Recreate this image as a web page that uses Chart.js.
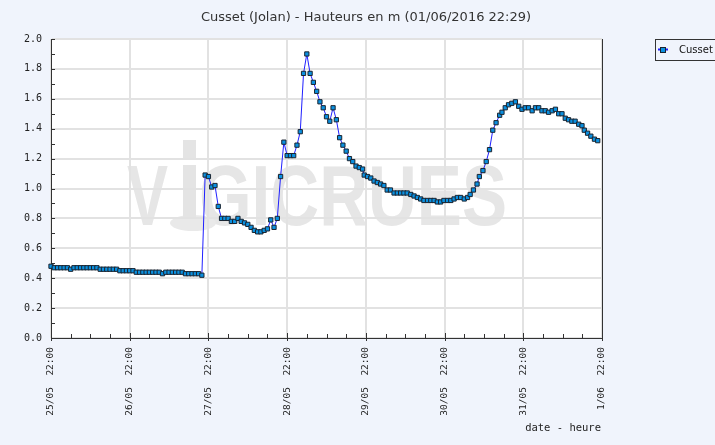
<!DOCTYPE html>
<html>
<head>
<meta charset="utf-8">
<script src="https://cdn.jsdelivr.net/npm/chart.js@4.4.1/dist/chart.umd.min.js"></script>
<style>
  html, body { margin: 0; padding: 0; background: #f0f4fc; }
  #wrap { width: 715px; height: 445px; }
</style>
</head>
<body>
<div id="wrap"><canvas id="hydroChart" width="715" height="445"></canvas></div>
<script>
const chartTitle = "Cusset (Jolan) - Hauteurs en m (01/06/2016 22:29)";
const seriesName = "Cusset";
const axisTitle = "date - heure";

// one label per day, tick every 24 h starting 25/05 22:00
const dayLabels = ["25/05  22:00", "26/05  22:00", "27/05  22:00", "28/05  22:00",
                   "29/05  22:00", "30/05  22:00", "31/05  22:00", "1/06  22:00"];

// hours since 25/05 22:00
const hours = [
  0, 1, 2, 3, 4, 5, 6, 7, 8, 9, 10, 11, 12, 13, 14, 15, 16, 17, 18, 19, 20,
  21, 22, 23, 24, 25, 26, 27, 28, 29, 30, 31, 32, 33, 34, 35, 36, 37, 38, 39, 40,
  41, 42, 43, 44, 45, 46, 47, 48, 49, 50, 51, 52, 53, 54, 55, 56, 57, 58, 59, 60,
  61, 62, 63, 64, 65, 66, 67, 68, 69, 70, 71, 72, 73, 74, 75, 76, 77, 78, 79, 80,
  81, 82, 83, 84, 85, 86, 87, 88, 89, 90, 91, 92, 93, 94, 95,
  95.5, 96.5, 97.5, 98.5, 99.5, 100.5, 101.5, 102.5, 103.5, 104.6, 105.6, 106.6, 107.6, 108.6,
  109.7, 110.7, 111.7, 112.7, 113.7, 114.8, 115.8, 116.8, 117.8, 118.8, 119.8, 120.9, 121.9,
  122.9, 123.9, 124.9, 126, 127, 127.8, 128.8, 129.9, 130.6, 131.7, 132.7, 133.7, 134.7,
  135.7, 136.8, 137.5, 138.5, 139.5, 140.5, 141.6, 142.6, 143.6, 144.6, 145.6, 146.7, 147.7,
  148.7, 149.7, 150.7, 151.7, 152.8, 153.8, 154.8, 155.8, 156.8, 157.8, 158.8, 159.8, 160.9,
  161.9, 162.6, 163.6, 164.6, 165.7, 166.7
];

// water height (m)
const heights = [
  0.48, 0.47, 0.47, 0.47, 0.47, 0.47, 0.46, 0.47, 0.47, 0.47, 0.47, 0.47, 0.47, 0.47, 0.47,
  0.46, 0.46, 0.46, 0.46, 0.46, 0.46, 0.45, 0.45, 0.45, 0.45, 0.45,
  0.44, 0.44, 0.44, 0.44, 0.44, 0.44, 0.44, 0.44, 0.43, 0.44, 0.44, 0.44, 0.44, 0.44, 0.44,
  0.43, 0.43, 0.43, 0.43, 0.43, 0.42,
  1.09, 1.08, 1.01, 1.02, 0.88, 0.80, 0.80, 0.80, 0.78, 0.78, 0.80, 0.78, 0.77, 0.76,
  0.74, 0.72, 0.71, 0.71, 0.72, 0.73, 0.79, 0.74, 0.80, 1.08, 1.31, 1.22, 1.22, 1.22, 1.29,
  1.38, 1.77, 1.90, 1.77, 1.71, 1.65, 1.58, 1.54, 1.48, 1.45, 1.54, 1.46, 1.34, 1.29, 1.25,
  1.20, 1.18, 1.15, 1.14, 1.13,
  1.09, 1.08, 1.07, 1.05, 1.04, 1.03, 1.02, 0.99, 0.99, 0.97, 0.97, 0.97, 0.97, 0.97,
  0.96, 0.95, 0.94, 0.93, 0.92, 0.92, 0.92, 0.92, 0.91, 0.91, 0.92, 0.92, 0.92,
  0.93, 0.94, 0.94, 0.93, 0.94, 0.96, 0.99, 1.03, 1.08, 1.12, 1.18, 1.26, 1.39,
  1.44, 1.49, 1.51, 1.54, 1.56, 1.57, 1.58, 1.55, 1.53, 1.54, 1.54, 1.52, 1.54,
  1.54, 1.52, 1.52, 1.51, 1.52, 1.53, 1.50, 1.50, 1.47, 1.46, 1.45, 1.45, 1.43,
  1.42, 1.39, 1.37, 1.35, 1.33, 1.32
];

const bg = '#f0f4fc';
const lineBlue = '#2020ff';
const markFill = '#0a90e0';
const markEdge = '#1a2430';

// draws a word squeezed to a given width, baseline at y
function squeezeText(ctx, txt, x, y, width) {
  const w = ctx.measureText(txt).width;
  ctx.save();
  ctx.translate(x, y);
  ctx.scale(width / w, 1);
  ctx.fillText(txt, 0, 0);
  ctx.restore();
}

const decor = {
  id: 'decor',
  beforeDraw(chart) {
    const { ctx, chartArea: a } = chart;
    ctx.save();
    ctx.fillStyle = '#ffffff';
    ctx.fillRect(a.left, a.top, a.right - a.left, a.bottom - a.top);
    // VIGICRUES watermark
    ctx.beginPath();
    ctx.rect(a.left, a.top, a.right - a.left, a.bottom - a.top);
    ctx.clip();
    ctx.fillStyle = '#e6e6e6';
    ctx.font = 'bold 85px "Liberation Sans"';
    ctx.textBaseline = 'alphabetic';
    ctx.textAlign = 'left';
    squeezeText(ctx, 'V', 127, 225, 41);
    squeezeText(ctx, 'GICRUES', 199, 225, 308);
    // the gauge-shaped "i"
    ctx.fillStyle = '#e9e9e9';
    ctx.beginPath();
    ctx.ellipse(193, 223, 23, 8, 0, 0, Math.PI * 2);
    ctx.fill();
    ctx.fillStyle = '#e4e4e4';
    ctx.fillRect(183, 140, 13, 20);
    ctx.fillRect(183, 165, 13, 52);
    ctx.restore();
  },
  beforeDatasetsDraw(chart) {
    const { ctx, chartArea: a, scales } = chart;
    ctx.save();
    ctx.strokeStyle = '#333';
    ctx.lineWidth = 1;
    ctx.beginPath();
    ctx.moveTo(Math.round(a.right) + 0.5, a.top);
    ctx.lineTo(Math.round(a.right) + 0.5, a.bottom);
    // minor ticks on the value axis
    for (let v = 0; v <= 2.0001; v += 0.1) {
      const py = Math.round(scales.y.getPixelForValue(v)) + 0.5;
      ctx.moveTo(a.left, py);
      ctx.lineTo(a.left + 4, py);
    }
    // ticks every 6 hours on the time axis
    for (let h = 0; h <= 168; h += 6) {
      const px = Math.round(scales.x.getPixelForValue(h)) + 0.5;
      const major = h % 24 === 0;
      ctx.moveTo(px, a.bottom + (major ? 3 : 0));
      ctx.lineTo(px, a.bottom - (major ? 5 : 4));
    }
    ctx.stroke();
    ctx.restore();
  },
  afterDraw(chart) {
    const { ctx, chartArea: a } = chart;
    ctx.save();
    // title
    ctx.fillStyle = '#333';
    ctx.font = '13px "DejaVu Sans"';
    ctx.textAlign = 'center';
    ctx.textBaseline = 'middle';
    ctx.fillText(chartTitle, 366, 18);
    // axis title
    ctx.font = '10.5px "DejaVu Sans Mono"';
    ctx.textAlign = 'right';
    ctx.fillStyle = '#222';
    ctx.fillText(axisTitle, a.right - 1, 428);
    // legend
    ctx.fillStyle = bg;
    ctx.fillRect(655, 39, 70, 21);
    ctx.strokeStyle = '#333';
    ctx.lineWidth = 1;
    ctx.strokeRect(655.5, 39.5, 70, 21);
    ctx.strokeStyle = lineBlue;
    ctx.lineWidth = 2;
    ctx.beginPath();
    ctx.moveTo(658, 49.5);
    ctx.lineTo(668, 49.5);
    ctx.stroke();
    ctx.fillStyle = markFill;
    ctx.fillRect(660.5, 47.5, 5, 5);
    ctx.strokeStyle = markEdge;
    ctx.lineWidth = 1;
    ctx.strokeRect(660.5, 47.5, 5, 5);
    ctx.fillStyle = '#111';
    ctx.font = '10px "DejaVu Sans"';
    ctx.textAlign = 'left';
    ctx.fillText(seriesName, 679, 50);
    ctx.restore();
  }
};

const ctx = document.getElementById('hydroChart').getContext('2d');
const chart = new Chart(ctx, {
  type: 'line',
  data: {
    datasets: [{
      label: seriesName,
      data: hours.map((h, i) => ({ x: h, y: heights[i] })),
      borderColor: lineBlue,
      borderWidth: 1,
      tension: 0,
      pointStyle: 'rect',
      pointRadius: 3,
      pointBackgroundColor: markFill,
      pointBorderColor: markEdge,
      pointBorderWidth: 1,
      clip: 6
    }]
  },
  options: {
    responsive: false,
    animation: false,
    devicePixelRatio: 1,
    layout: { padding: { top: 39, right: 113, bottom: 0, left: 0 } },
    plugins: {
      legend: { display: false },
      title: { display: false },
      tooltip: { enabled: false }
    },
    scales: {
      x: {
        type: 'linear',
        min: 0,
        max: 168,
        afterFit: s => { s.height = 107; },
        afterBuildTicks: s => { s.ticks = dayLabels.map((_, i) => ({ value: i * 24 })); },
        ticks: {
          callback: v => dayLabels[Math.round(v / 24)],
          autoSkip: false,
          maxRotation: 90,
          minRotation: 90,
          padding: 9,
          color: '#222',
          font: { family: 'DejaVu Sans Mono', size: 9.5 }
        },
        grid: { color: '#e2e2e2', lineWidth: 2, drawTicks: false },
        border: { color: '#333', width: 1 }
      },
      y: {
        min: 0,
        max: 2,
        afterFit: s => { s.width = 51; },
        ticks: {
          stepSize: 0.2,
          callback: v => v.toFixed(1),
          padding: 9,
          color: '#222',
          font: { family: 'DejaVu Sans Mono', size: 10 }
        },
        grid: { color: '#e2e2e2', lineWidth: 2, drawTicks: false },
        border: { color: '#333', width: 1 }
      }
    }
  },
  plugins: [decor]
});
</script>
</body>
</html>
